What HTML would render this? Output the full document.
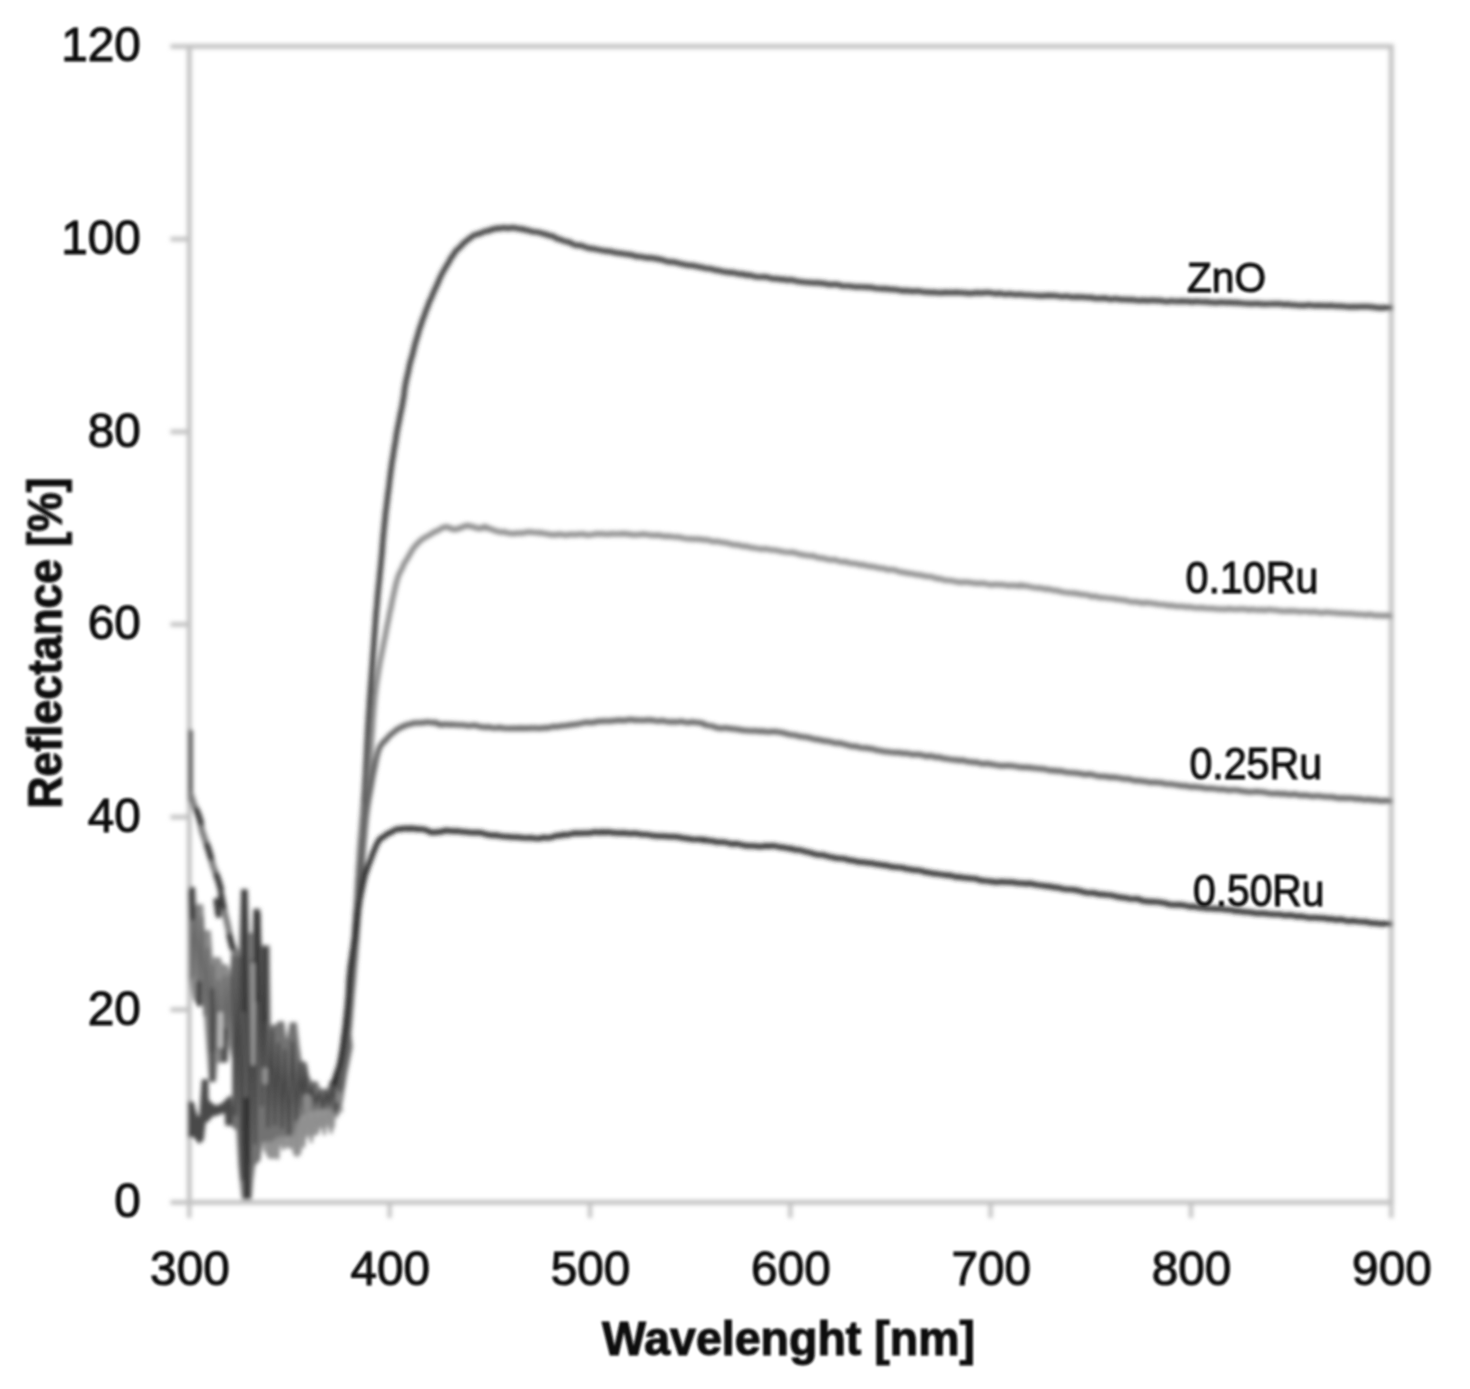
<!DOCTYPE html>
<html><head><meta charset="utf-8"><title>Reflectance chart</title>
<style>
html,body{margin:0;padding:0;background:#fff;}
svg{display:block;font-family:"Liberation Sans",sans-serif;}
</style></head><body>
<svg width="1470" height="1389" viewBox="0 0 1470 1389">
<defs><filter id="b" x="-5%" y="-5%" width="110%" height="110%"><feGaussianBlur stdDeviation="2.0"/></filter>
<filter id="bt" x="-5%" y="-5%" width="110%" height="110%"><feGaussianBlur stdDeviation="0.9"/></filter></defs>
<rect width="1470" height="1389" fill="#fff"/>
<g filter="url(#b)">
<rect x="189.3" y="46.4" width="1202.0" height="1156.0" fill="none" stroke="#c2c2c2" stroke-width="4.8"/>
<line x1="170.5" y1="1202.4" x2="189.3" y2="1202.4" stroke="#c2c2c2" stroke-width="4.6"/>
<line x1="170.5" y1="1009.7" x2="189.3" y2="1009.7" stroke="#c2c2c2" stroke-width="4.6"/>
<line x1="170.5" y1="817.1" x2="189.3" y2="817.1" stroke="#c2c2c2" stroke-width="4.6"/>
<line x1="170.5" y1="624.4" x2="189.3" y2="624.4" stroke="#c2c2c2" stroke-width="4.6"/>
<line x1="170.5" y1="431.8" x2="189.3" y2="431.8" stroke="#c2c2c2" stroke-width="4.6"/>
<line x1="170.5" y1="239.1" x2="189.3" y2="239.1" stroke="#c2c2c2" stroke-width="4.6"/>
<line x1="170.5" y1="46.4" x2="189.3" y2="46.4" stroke="#c2c2c2" stroke-width="4.6"/>
<line x1="189.3" y1="1202.4" x2="189.3" y2="1218" stroke="#c2c2c2" stroke-width="4.2"/>
<line x1="389.6" y1="1202.4" x2="389.6" y2="1218" stroke="#c2c2c2" stroke-width="4.2"/>
<line x1="590.0" y1="1202.4" x2="590.0" y2="1218" stroke="#c2c2c2" stroke-width="4.2"/>
<line x1="790.3" y1="1202.4" x2="790.3" y2="1218" stroke="#c2c2c2" stroke-width="4.2"/>
<line x1="990.6" y1="1202.4" x2="990.6" y2="1218" stroke="#c2c2c2" stroke-width="4.2"/>
<line x1="1191.0" y1="1202.4" x2="1191.0" y2="1218" stroke="#c2c2c2" stroke-width="4.2"/>
<line x1="1391.3" y1="1202.4" x2="1391.3" y2="1218" stroke="#c2c2c2" stroke-width="4.2"/>
<polygon points="255.0,1080.0 262.0,1070.0 280.0,1090.0 300.0,1096.0 320.0,1100.0 338.0,1098.0 342.0,1112.0 342.0,1107.0 335.5,1111.0 334.0,1127.7 329.0,1127.7 327.0,1121.0 325.7,1127.7 321.0,1127.7 318.0,1125.0 316.0,1135.0 308.5,1135.0 304.0,1139.0 300.0,1154.6 293.8,1154.6 291.0,1138.0 289.0,1147.0 282.8,1147.0 280.0,1143.0 276.7,1158.0 269.0,1158.0 266.0,1153.0 262.0,1134.0 255.0,1143.0" fill="#9a9a9a" stroke="#9a9a9a" stroke-width="1.5" stroke-linejoin="round" opacity="1"/>
<polyline points="255.0,1088.0 257.9,1144.9 261.6,1082.9 265.0,1149.9 268.1,1095.8 271.4,1157.1 274.8,1104.5 277.9,1158.2 280.7,1103.4 283.4,1149.1 286.8,1093.1 290.4,1147.7 294.0,1111.2 296.9,1155.8 300.4,1098.5 303.8,1146.1 307.5,1106.9 311.3,1141.7 314.3,1106.9 317.6,1133.1 321.3,1108.7 324.3,1134.1 327.7,1102.9 331.1,1132.6 334.2,1098.7 336.9,1116.1 340.4,1107.4" fill="none" stroke="#8e8e8e" stroke-width="3.0" stroke-linejoin="round" stroke-linecap="round"/>
<polygon points="189.5,888.0 194.5,888.0 196.0,905.0 202.5,905.0 204.0,931.0 210.0,931.0 212.0,958.0 220.0,958.0 222.0,965.0 227.0,965.0 230.0,975.0 233.0,951.0 240.0,951.0 240.0,1080.0 233.0,1060.0 229.0,1040.0 227.0,1062.0 217.0,1062.0 215.5,1081.0 209.5,1081.0 207.0,1045.0 204.0,1005.0 200.0,1005.0 194.0,1000.0 189.5,978.0" fill="#8a8a8a" stroke="#8a8a8a" stroke-width="1.5" stroke-linejoin="round" opacity="1"/>
<polyline points="189.5,891.7 192.7,977.0 195.7,907.0 199.1,984.2 202.1,917.6 204.8,1015.0 207.6,948.9 210.1,1051.4 212.8,965.2 215.2,1050.3 218.5,980.8 221.6,1061.2 224.4,977.1 227.0,1038.9 229.8,977.1 233.2,1057.1 236.7,964.5 239.8,1068.3" fill="none" stroke="#6a6a6a" stroke-width="3.0" stroke-linejoin="round" stroke-linecap="round"/>
<line x1="192.0" y1="889.0" x2="192.0" y2="918.0" stroke="#3a3a3a" stroke-width="5" stroke-linecap="round"/>
<line x1="199.0" y1="983.0" x2="199.0" y2="1004.0" stroke="#3a3a3a" stroke-width="5" stroke-linecap="round"/>
<line x1="212.5" y1="990.0" x2="212.5" y2="1080.0" stroke="#4a4a4a" stroke-width="4.5" stroke-linecap="round"/>
<line x1="225.0" y1="1030.0" x2="225.0" y2="1060.0" stroke="#4a4a4a" stroke-width="4.5" stroke-linecap="round"/>
<line x1="220.5" y1="1014.0" x2="220.5" y2="1046.0" stroke="#c4c4c4" stroke-width="4.5" stroke-linecap="round"/>
<polygon points="232.8,951.0 239.5,951.0 241.5,889.7 247.2,889.7 248.5,933.8 253.0,933.8 254.0,909.3 259.5,909.3 261.0,946.0 269.0,946.0 270.0,1025.6 276.0,1025.6 278.5,1022.0 283.5,1022.0 286.5,1045.0 290.5,1023.0 296.0,1023.0 298.5,1045.0 301.0,1062.0 305.0,1062.0 308.0,1075.0 311.0,1082.0 317.0,1082.0 319.0,1088.0 321.0,1089.4 328.0,1089.4 330.5,1081.0 335.5,1081.0 339.5,1061.0 343.0,1030.6 346.5,1000.0 352.0,1046.5 346.5,1073.5 341.6,1104.0 336.0,1115.0 330.0,1108.0 312.0,1110.0 305.0,1112.0 298.0,1118.0 292.6,1135.0 277.0,1136.0 271.8,1141.0 262.0,1141.0 259.7,1160.0 254.5,1165.0 252.5,1180.0 251.0,1199.0 242.5,1199.0 241.0,1185.0 239.0,1165.0 237.0,1130.0 232.8,1127.0" fill="#727272" stroke="#727272" stroke-width="1.5" stroke-linejoin="round" opacity="1"/>
<polyline points="232.8,951.4 235.6,1115.0 239.1,957.0 241.9,1179.5 245.6,898.8 249.2,1163.9 252.0,960.9 255.2,1143.3 259.2,914.0 261.9,1105.4 265.0,953.7 268.1,1126.8 272.0,1030.4 274.9,1124.8 278.3,1044.0 282.0,1127.6 284.9,1050.2 288.9,1134.6 292.5,1042.5 296.0,1119.9 299.7,1062.4 302.6,1107.4 305.5,1064.6 308.6,1108.7 311.8,1085.6 315.5,1104.3 319.4,1092.5 323.1,1107.6 326.0,1091.8 329.4,1104.9 332.1,1082.1 336.0,1110.6 339.5,1061.7 342.7,1085.5 346.2,1017.1" fill="none" stroke="#454545" stroke-width="2.8" stroke-linejoin="round" stroke-linecap="round"/>
<line x1="244.4" y1="892.0" x2="244.4" y2="1010.0" stroke="#333" stroke-width="5" stroke-linecap="round"/>
<line x1="256.6" y1="912.0" x2="256.6" y2="1000.0" stroke="#333" stroke-width="5" stroke-linecap="round"/>
<line x1="265.0" y1="949.0" x2="265.0" y2="1020.0" stroke="#383838" stroke-width="5" stroke-linecap="round"/>
<line x1="247.0" y1="1100.0" x2="247.0" y2="1196.0" stroke="#333" stroke-width="6" stroke-linecap="round"/>
<line x1="253.0" y1="964.0" x2="253.0" y2="1064.0" stroke="#a4a4a4" stroke-width="3.5" stroke-linecap="round"/>
<line x1="265.0" y1="1070.0" x2="265.0" y2="1082.0" stroke="#999" stroke-width="5" stroke-linecap="round"/>
<line x1="307.0" y1="1098.0" x2="307.0" y2="1108.0" stroke="#8a8a8a" stroke-width="8" stroke-linecap="round"/>
<polygon points="188.7,1102.0 193.0,1102.0 195.0,1110.0 197.5,1118.0 200.0,1116.0 202.5,1080.0 207.5,1080.0 208.0,1100.0 212.0,1104.0 216.0,1106.5 222.0,1104.0 226.0,1100.0 230.3,1096.0 232.8,1110.0 231.5,1125.0 226.0,1125.0 225.4,1112.0 222.0,1113.0 216.0,1115.0 212.0,1116.0 208.0,1121.0 205.0,1122.0 203.0,1140.0 199.0,1143.0 196.0,1139.0 193.0,1136.0 188.7,1137.0" fill="#4a4a4a" stroke="#4a4a4a" stroke-width="1.5" stroke-linejoin="round" opacity="1"/>
<polyline points="190.6,731.5 190.6,800.0" fill="none" stroke="#5a5a5a" stroke-width="4.6" stroke-linejoin="round" stroke-linecap="round"/>
<polyline points="190.8,795.0 194.0,805.0 199.5,817.0 201.9,830.4 205.5,841.0 209.3,851.2 213.0,866.0 219.0,881.8 222.7,902.6 225.0,914.0 227.6,924.7 231.3,943.0 236.2,954.0" fill="none" stroke="#7c7c7c" stroke-width="6.2" stroke-linejoin="round" stroke-linecap="round"/>
<polyline points="196.5,810.0 201.0,823.0" fill="none" stroke="#3a3a3a" stroke-width="6" stroke-linejoin="round" stroke-linecap="round"/>
<polyline points="207.0,845.0 211.0,858.0" fill="none" stroke="#3a3a3a" stroke-width="6" stroke-linejoin="round" stroke-linecap="round"/>
<polyline points="216.5,875.0 221.0,889.0" fill="none" stroke="#3a3a3a" stroke-width="6" stroke-linejoin="round" stroke-linecap="round"/>
<polyline points="221.0,895.0 223.5,907.0" fill="none" stroke="#3a3a3a" stroke-width="6" stroke-linejoin="round" stroke-linecap="round"/>
<polyline points="216.5,901.0 218.5,915.0" fill="none" stroke="#3a3a3a" stroke-width="6" stroke-linejoin="round" stroke-linecap="round"/>
<polyline points="229.5,936.0 232.5,948.0" fill="none" stroke="#3a3a3a" stroke-width="6" stroke-linejoin="round" stroke-linecap="round"/>
<polyline points="336.0,1084.6 336.4,1083.5 336.9,1080.9 337.6,1077.4 338.2,1074.4 339.0,1070.8 339.7,1067.4 340.4,1063.9 341.0,1059.5 341.6,1055.9 342.1,1053.3 342.6,1049.0 343.1,1045.6 343.6,1040.9 344.1,1037.6 344.5,1034.1 345.0,1029.7 345.5,1026.8 345.9,1022.9 346.4,1018.0 346.8,1014.1 347.3,1010.9 347.7,1007.7 348.1,1003.4 348.5,999.7 348.9,996.5 349.2,992.8 349.5,989.9 349.8,987.1 350.1,984.2 350.4,980.8 350.7,977.8 351.0,974.7 351.3,971.9 351.6,968.6 352.0,965.3 352.3,963.2 352.6,959.8 352.9,956.8 353.2,953.0 353.5,950.6 353.8,946.9 354.0,942.2 354.3,938.5 354.6,935.0 354.8,931.0 355.0,927.4 355.3,923.2 355.5,920.4 355.7,917.2 355.9,914.1 356.1,911.9 356.3,909.8 356.5,907.5 356.7,904.8 356.8,902.5 357.0,899.4 357.2,897.3 357.3,895.8 357.4,893.2 357.5,890.8 357.7,889.0 357.8,886.6 358.0,883.6 358.2,879.8 358.5,875.9 358.7,871.3 359.0,866.6 359.4,861.1 359.7,855.6 360.0,850.4 360.4,844.8 360.7,840.3 361.0,836.8 361.3,833.2 361.7,828.9 362.0,825.0 362.3,821.1 362.6,817.9 362.9,814.9 363.2,810.9 363.5,806.9 363.8,803.7 364.0,799.4 364.3,796.1 364.5,792.9 364.8,788.7 365.0,784.5 365.3,780.0 365.6,775.8 365.8,771.6 366.0,765.5 366.3,761.3 366.5,756.2 366.8,751.0 367.0,745.6 367.3,740.4 367.6,734.7 367.9,729.3 368.2,723.6 368.6,717.6 368.9,713.0 369.3,707.1 369.6,701.1 370.0,696.0 370.4,690.5 370.8,685.0 371.2,679.6 371.6,674.4 372.0,669.1 372.4,663.7 372.8,658.1 373.2,652.2 373.6,647.1 374.0,641.8 374.3,637.0 374.7,632.0 375.1,626.6 375.5,621.2 375.9,615.7 376.4,609.3 376.7,607.0 377.0,603.7 377.3,599.8 377.6,596.4 377.9,593.0 378.2,590.5 378.6,586.5 378.9,583.0 379.3,580.3 379.6,576.7 379.9,573.2 380.3,570.2 380.8,564.9 381.3,559.6 381.7,555.7 382.0,552.9 382.2,549.8 382.4,547.3 382.5,545.3 382.7,542.6 382.9,540.7 383.1,538.2 383.4,535.1 383.6,532.2 383.9,530.3 384.2,526.9 384.5,523.6 384.8,521.2 385.1,518.6 385.4,514.7 385.7,511.8 386.1,509.1 386.4,506.9 386.8,503.3 387.1,501.1 387.5,498.2 387.8,495.1 388.2,491.9 388.6,489.9 388.9,486.8 389.3,483.6 389.6,480.4 390.0,478.0 390.3,474.8 390.7,472.2 391.1,469.0 391.5,466.5 391.9,462.9 392.3,460.3 392.8,458.2 393.2,455.2 393.7,451.6 394.1,449.4 394.6,445.9 395.1,443.7 395.6,440.6 396.0,437.3 396.5,434.2 397.0,431.1 397.5,429.2 398.1,425.3 398.6,423.4 399.2,420.6 399.8,417.2 400.4,413.7 401.0,411.5 401.6,408.7 402.2,405.5 402.7,402.6 403.2,399.9 403.6,397.5 403.9,395.4 404.1,394.1 404.3,392.0 404.5,389.9 404.8,387.9 405.1,386.4 405.6,383.4 406.2,380.7 406.9,377.2 407.6,374.5 408.5,370.9 409.3,366.1 410.2,362.6 411.2,359.0 412.1,356.1 413.1,352.2 414.1,347.9 415.1,343.9 416.1,340.6 417.2,337.0 418.3,333.3 419.5,328.8 420.7,325.8 421.9,321.9 423.2,318.1 424.5,315.2 425.8,310.8 427.2,307.9 428.6,303.7 430.0,300.3 431.5,297.7 433.0,293.3 434.6,290.3 436.2,286.4 437.9,283.0 439.5,278.8 441.2,275.3 442.9,271.9 444.5,269.5 446.1,266.3 447.7,264.0 449.3,261.3 450.9,257.9 452.6,256.1 454.2,253.3 455.8,251.2 457.4,249.2 459.0,248.3 460.6,246.4 462.2,244.8 463.8,242.8 465.4,241.7 467.0,240.6 468.7,238.8 470.4,237.9 472.2,236.4 474.0,235.2 475.8,234.5 477.7,234.5 479.6,233.3 481.5,233.1 483.5,231.9 485.5,231.0 487.5,231.1 489.6,230.6 491.7,229.1 493.9,229.4 496.1,228.4 498.3,228.1 500.5,228.7 502.8,227.5 505.1,227.7 507.4,228.6 509.7,227.9 512.1,227.7 514.5,227.9 517.0,228.2 519.6,229.1 522.2,228.7 525.0,230.1 527.9,230.1 530.9,231.4 534.0,232.0 537.0,232.0 540.1,232.7 543.1,233.8 546.0,234.1 548.8,235.6 551.6,235.8 554.3,236.8 556.9,238.9 559.6,239.1 562.3,240.4 564.9,241.2 567.6,241.9 570.2,242.4 572.5,244.1 574.9,244.9 577.2,245.5 579.7,245.2 582.5,246.0 585.6,247.2 589.2,248.4 593.5,248.7 598.4,249.8 603.8,250.8 609.4,251.3 615.1,252.6 620.5,253.3 625.6,254.1 630.0,254.6 633.6,255.4 636.5,256.7 639.0,256.3 641.3,256.8 643.8,257.1 646.6,257.9 650.0,257.7 654.4,258.4 659.8,259.4 662.8,260.0 665.9,261.2 669.2,261.9 672.6,261.9 676.2,262.6 679.7,263.6 683.4,264.3 687.1,265.1 690.8,265.4 694.5,265.8 698.1,266.8 701.8,267.2 705.3,268.4 708.8,268.5 712.2,269.1 715.6,270.3 719.0,270.4 722.4,271.6 725.8,271.8 729.2,272.7 732.6,272.4 736.0,273.3 739.5,274.2 742.9,273.8 746.3,275.3 749.7,274.9 753.1,276.1 756.5,276.8 759.9,277.0 763.3,276.9 766.7,277.1 770.1,278.0 773.5,278.9 776.9,278.5 780.3,279.6 783.7,279.1 787.1,280.4 790.5,279.7 793.9,280.4 797.3,281.5 800.7,281.7 804.1,282.2 807.5,282.5 810.9,282.7 814.3,283.0 817.7,282.7 821.1,283.4 824.5,283.4 827.9,284.4 831.3,284.6 834.7,284.4 838.1,284.5 841.5,285.9 844.9,286.0 848.3,286.0 851.7,286.3 855.1,287.0 858.5,286.8 861.9,287.0 865.3,287.2 868.7,287.4 872.1,287.4 875.5,288.5 878.8,288.5 882.2,288.9 885.5,288.6 888.8,289.3 892.1,289.3 895.4,289.6 898.7,290.0 902.1,290.9 905.4,290.7 908.8,290.9 912.3,291.4 915.8,291.2 919.3,291.1 922.9,292.0 926.5,292.1 930.2,292.4 933.9,292.3 937.6,292.7 941.3,292.8 945.0,292.3 948.8,292.6 952.6,292.6 956.4,292.3 960.4,292.6 964.3,292.8 968.4,293.3 972.5,293.3 976.8,292.6 981.0,293.1 985.5,292.5 990.0,292.7 993.2,293.3 996.3,293.9 999.5,293.1 1002.8,294.0 1006.2,294.3 1009.5,293.7 1013.0,294.3 1016.4,294.7 1019.9,294.2 1023.5,294.8 1027.0,295.0 1030.6,295.0 1034.2,295.5 1037.8,295.7 1041.4,295.9 1045.1,295.6 1048.7,295.3 1052.3,295.6 1055.9,295.7 1059.5,296.3 1063.1,296.7 1066.6,296.0 1070.2,297.0 1073.7,297.2 1077.2,296.9 1080.7,297.2 1084.2,297.0 1087.7,297.8 1091.1,297.2 1094.6,298.5 1098.1,298.4 1101.6,298.4 1105.1,298.1 1108.6,299.1 1112.1,299.3 1115.6,298.5 1119.0,299.4 1122.5,299.7 1126.0,299.6 1129.5,299.9 1133.0,299.7 1136.5,300.4 1140.0,300.7 1143.5,300.1 1146.9,300.8 1150.4,300.4 1153.9,300.3 1157.4,300.6 1160.9,300.5 1164.4,301.5 1167.9,301.7 1171.3,300.8 1174.8,301.5 1178.3,301.3 1181.8,301.1 1185.3,301.4 1188.8,301.4 1192.2,302.1 1195.7,301.3 1199.2,301.6 1202.7,302.0 1206.2,301.6 1209.6,302.4 1213.1,302.4 1216.6,302.8 1220.1,302.1 1223.6,302.3 1227.1,302.7 1230.5,302.4 1234.0,302.9 1237.5,302.6 1241.0,303.2 1244.5,303.5 1248.1,303.6 1251.6,303.9 1255.2,303.5 1258.8,303.6 1262.3,304.1 1266.0,304.1 1269.6,304.0 1273.2,303.9 1276.8,303.9 1280.4,303.8 1284.0,304.8 1287.5,304.1 1291.1,305.0 1294.6,304.8 1298.1,305.5 1301.6,305.3 1305.0,305.7 1308.4,304.8 1311.8,305.4 1315.1,305.6 1318.3,305.4 1321.5,305.7 1324.7,305.6 1327.9,305.9 1331.0,305.4 1334.2,306.0 1337.4,306.1 1340.7,306.1 1343.9,306.3 1347.1,306.8 1350.3,306.8 1353.5,306.7 1356.6,306.9 1359.7,306.7 1362.7,306.6 1367.0,306.5 1371.3,306.9 1375.1,307.4 1378.9,307.8 1382.1,307.9 1385.4,307.6 1390.3,307.7" fill="none" stroke="#383838" stroke-width="5.2" stroke-linejoin="round" stroke-linecap="round"/>
<polyline points="338.0,1100.5 338.4,1098.2 338.9,1094.1 339.6,1090.4 340.2,1087.3 341.0,1082.9 341.7,1078.4 342.4,1073.7 343.0,1070.1 343.6,1066.4 344.1,1062.6 344.6,1058.3 345.1,1054.9 345.6,1051.1 346.1,1047.8 346.6,1044.3 347.0,1040.5 347.4,1036.3 347.8,1032.3 348.2,1028.3 348.6,1024.1 349.0,1020.3 349.3,1017.1 349.7,1013.3 350.0,1009.9 350.3,1007.1 350.6,1003.5 350.8,1000.6 351.0,997.2 351.3,994.0 351.5,991.3 351.7,987.9 352.0,985.0 352.3,982.1 352.6,978.1 352.9,973.7 353.2,970.8 353.6,966.8 353.9,962.9 354.2,959.3 354.5,955.3 354.8,951.6 355.0,947.2 355.3,944.1 355.5,940.2 355.8,935.5 356.0,932.5 356.3,928.8 356.5,925.0 356.8,921.6 357.0,918.3 357.3,915.5 357.5,911.9 357.8,909.2 358.0,905.6 358.3,903.3 358.5,900.5 358.7,897.3 358.9,895.2 359.1,893.5 359.4,891.2 359.6,888.7 359.8,885.9 360.0,883.2 360.2,880.2 360.4,875.6 360.7,871.8 360.9,866.0 361.1,861.5 361.4,855.5 361.6,851.0 361.9,845.6 362.2,840.8 362.5,836.5 362.9,832.6 363.3,828.5 363.7,824.3 364.1,820.4 364.5,817.3 364.9,814.4 365.3,810.7 365.7,807.4 366.0,806.5 366.3,804.9 366.7,803.7 367.0,801.0 367.4,799.2 367.8,794.8 368.3,790.6 368.6,786.7 368.8,783.2 369.1,779.7 369.4,774.5 369.6,771.7 369.9,768.9 370.1,764.9 370.3,761.4 370.5,758.7 370.7,754.7 371.0,751.5 371.2,747.2 371.4,744.1 371.6,740.5 371.8,737.8 372.0,733.7 372.3,731.7 372.5,727.6 372.7,725.4 372.9,720.8 373.2,717.3 373.4,715.0 373.7,711.2 374.1,706.3 374.4,702.7 374.8,698.7 375.1,695.0 375.5,692.9 375.9,688.6 376.4,684.6 377.0,681.0 377.6,677.2 378.2,673.3 378.9,668.5 379.6,664.8 380.3,660.3 381.1,656.8 381.8,653.1 382.6,649.0 383.4,645.0 384.2,640.6 385.1,636.6 385.9,632.3 386.7,628.0 387.5,623.8 388.3,620.6 389.0,616.6 389.7,612.8 390.4,609.8 391.1,607.1 391.7,603.0 392.3,600.6 392.9,597.5 393.5,595.0 394.0,592.2 394.5,591.0 394.9,588.2 395.4,586.8 395.8,584.9 396.2,582.7 396.7,581.7 397.2,579.6 397.7,577.8 398.3,576.2 398.9,574.8 399.4,573.3 400.1,572.4 400.7,570.9 401.3,570.0 402.0,568.5 402.7,567.2 403.4,564.9 404.0,563.9 404.8,562.4 405.5,561.4 406.3,560.1 407.2,558.9 408.1,557.4 409.1,555.2 410.1,553.7 411.2,552.0 412.4,549.6 413.6,547.9 414.9,546.6 416.2,544.6 417.6,543.8 419.1,541.8 420.7,540.3 422.4,539.1 424.1,538.0 425.9,536.8 427.7,536.1 429.5,535.0 431.2,533.8 432.9,533.1 434.7,531.6 436.5,531.3 438.2,530.4 440.0,529.3 441.7,528.1 443.3,527.6 444.8,527.3 446.2,526.5 447.4,527.1 448.5,527.6 449.6,527.7 450.7,528.0 451.8,529.3 453.0,529.1 454.4,529.3 455.9,529.6 457.6,528.8 459.3,527.9 461.1,528.1 462.9,526.8 464.7,525.9 466.4,526.3 468.0,525.4 469.5,525.7 471.0,526.7 472.4,526.9 473.8,526.5 475.2,527.6 476.4,528.0 477.7,528.4 478.8,528.2 479.8,528.7 480.8,527.9 481.6,527.9 482.5,527.7 483.2,528.1 484.0,526.8 484.8,527.5 485.6,526.8 486.4,527.4 487.0,527.4 487.5,527.8 488.1,528.6 488.8,528.5 489.7,528.6 490.9,529.0 492.4,529.4 494.3,530.7 496.6,531.0 499.1,531.9 501.8,532.1 504.6,531.8 507.5,533.0 510.2,533.4 512.9,533.6 515.5,533.3 518.2,533.1 520.9,533.0 523.5,533.1 526.2,532.2 528.7,532.2 531.1,532.0 533.3,532.5 535.3,532.5 537.0,532.8 538.5,533.0 539.9,532.6 541.4,532.9 543.0,533.5 544.8,533.5 546.9,533.9 549.2,534.4 551.4,534.8 553.8,534.5 556.3,534.9 559.1,534.1 562.3,534.5 565.9,535.3 570.0,534.3 574.8,534.6 580.4,534.1 583.4,534.0 586.4,534.9 589.6,535.0 592.7,534.5 596.0,533.8 599.2,533.9 602.5,533.8 605.7,534.3 608.8,534.2 611.9,533.9 617.7,534.0 623.1,533.6 628.4,534.2 633.5,534.8 638.5,534.7 643.5,534.1 648.5,534.8 653.4,535.3 658.5,535.1 663.7,536.3 669.0,536.2 674.4,537.0 679.7,537.2 685.0,538.5 690.1,538.8 694.9,539.1 699.3,539.1 703.4,539.9 707.1,539.8 710.5,540.9 713.8,541.7 716.9,541.2 720.0,542.1 723.2,542.5 726.5,542.9 729.8,543.8 733.1,544.6 736.3,544.9 739.5,545.2 742.8,546.4 746.3,546.2 749.9,547.3 753.7,547.8 757.7,548.5 761.7,549.1 765.8,548.8 770.1,549.8 774.6,550.0 779.3,551.0 784.5,552.0 790.0,552.5 793.0,552.2 796.0,553.2 799.3,554.1 802.6,554.9 806.0,555.2 809.5,556.0 813.1,555.7 816.7,557.4 820.3,557.8 824.0,558.3 827.7,559.4 831.4,560.0 835.0,559.7 838.7,561.2 842.2,561.8 845.8,561.7 849.3,563.0 852.8,563.4 856.3,563.6 859.8,564.9 863.2,564.7 866.7,565.9 870.2,566.3 873.7,566.7 877.2,567.6 880.7,568.1 884.2,568.4 887.6,569.9 891.1,569.5 894.6,570.0 898.1,571.2 901.6,572.2 905.1,572.6 908.6,573.4 912.1,573.7 915.6,574.6 919.0,574.9 922.5,575.4 926.0,576.4 929.5,576.5 933.0,577.2 936.5,578.7 940.0,578.6 943.5,579.9 946.9,580.5 950.4,580.5 953.9,581.3 957.4,581.9 961.0,582.4 964.6,582.0 968.5,582.3 972.3,582.9 976.2,583.3 980.0,583.4 983.9,583.3 987.7,584.2 991.4,584.9 995.1,584.3 998.6,584.7 1002.0,584.7 1005.0,585.0 1008.1,585.6 1013.2,585.3 1016.7,585.9 1018.7,585.7 1019.6,585.7 1020.1,586.0 1020.8,585.0 1022.3,586.0 1025.1,585.7 1030.0,586.8 1033.5,587.5 1037.0,587.8 1041.3,588.1 1045.5,589.3 1048.8,588.9 1052.1,590.1 1055.3,590.3 1058.9,591.1 1062.5,592.0 1066.0,592.5 1069.7,592.9 1073.4,593.1 1077.2,593.6 1080.9,594.4 1084.7,594.7 1088.4,595.3 1092.1,596.7 1095.8,596.2 1099.5,597.6 1103.0,597.5 1106.4,598.0 1109.9,598.4 1113.2,598.5 1116.5,599.4 1119.7,599.5 1123.0,600.2 1126.2,600.4 1129.4,601.5 1132.6,601.9 1135.8,601.8 1139.0,602.4 1142.2,603.1 1145.4,602.7 1148.6,602.8 1151.8,603.3 1155.1,603.6 1158.4,604.5 1161.7,604.5 1165.0,604.8 1168.4,605.6 1171.9,605.3 1175.4,606.3 1178.8,606.3 1182.5,606.3 1186.1,607.1 1189.8,606.8 1193.7,607.7 1197.5,608.0 1201.4,607.7 1204.4,608.1 1207.4,608.5 1210.4,608.4 1213.4,608.6 1216.5,608.9 1219.7,609.1 1222.8,609.0 1225.9,609.4 1229.1,608.6 1232.3,609.1 1235.5,609.3 1238.6,609.1 1241.9,609.2 1245.1,609.0 1248.3,610.1 1251.5,609.4 1254.8,609.7 1258.0,610.3 1261.3,609.6 1264.5,610.6 1267.7,609.7 1270.9,609.7 1274.1,610.2 1277.3,610.3 1280.5,611.1 1283.7,611.2 1286.8,611.2 1290.0,610.9 1293.3,611.2 1296.6,611.0 1299.9,611.9 1303.2,611.5 1306.7,611.5 1310.3,612.1 1313.8,611.7 1317.4,612.1 1321.0,613.0 1324.6,612.2 1328.3,612.4 1331.9,612.7 1335.5,612.9 1339.1,613.3 1342.7,613.3 1346.3,613.6 1349.7,613.6 1353.0,613.8 1356.4,614.4 1359.8,614.3 1362.9,614.5 1365.9,615.1 1369.0,614.4 1372.0,614.7 1375.5,615.7 1378.9,615.3 1382.3,615.9 1386.1,615.4 1390.0,616.0" fill="none" stroke="#888888" stroke-width="5.2" stroke-linejoin="round" stroke-linecap="round"/>
<polyline points="340.0,1089.7 340.4,1087.7 340.9,1084.5 341.6,1081.1 342.2,1077.0 343.0,1072.0 343.7,1067.6 344.4,1064.4 345.0,1059.7 345.6,1055.9 346.1,1053.1 346.6,1048.7 347.2,1045.4 347.7,1041.2 348.1,1037.7 348.6,1033.3 349.0,1030.2 349.4,1026.7 349.7,1022.5 350.0,1019.0 350.3,1015.2 350.6,1010.7 350.9,1007.8 351.2,1003.9 351.5,999.8 351.8,995.7 352.1,992.9 352.4,988.7 352.8,985.3 353.1,981.7 353.4,977.8 353.7,974.3 354.0,969.9 354.3,966.6 354.6,962.4 355.0,959.3 355.3,955.5 355.6,950.8 355.9,947.1 356.2,943.4 356.5,940.6 356.8,936.1 357.0,932.3 357.3,927.9 357.6,924.1 357.8,920.0 358.0,916.3 358.3,913.1 358.5,910.1 358.7,907.9 358.9,905.4 359.1,903.8 359.3,902.0 359.5,900.6 359.7,898.6 359.8,896.4 360.0,895.4 360.1,893.9 360.2,892.3 360.3,890.6 360.4,889.3 360.5,887.1 360.6,885.9 360.8,883.2 361.0,879.7 361.3,875.6 361.6,871.9 362.0,867.0 362.4,860.4 362.8,855.7 363.2,849.8 363.6,844.3 364.0,839.8 364.4,836.0 364.7,832.0 365.1,827.0 365.5,823.9 365.8,819.5 366.2,816.8 366.6,813.0 367.0,810.5 367.4,807.5 367.9,804.1 368.3,802.0 368.8,798.6 369.3,796.0 369.7,794.3 370.1,791.5 370.5,789.6 370.8,788.0 371.1,786.5 371.4,784.4 371.6,782.8 371.8,782.4 372.0,780.4 372.3,779.9 372.5,778.5 372.7,776.5 373.0,775.4 373.2,774.3 373.4,773.3 373.7,772.0 373.9,770.8 374.2,769.6 374.5,768.5 374.8,766.4 375.2,764.6 375.5,763.2 375.9,760.8 376.3,759.0 376.6,758.1 377.0,755.9 377.4,754.5 377.8,752.5 378.1,751.8 378.5,750.8 378.9,749.1 379.2,748.8 379.6,747.9 380.0,746.3 380.5,746.2 381.0,745.2 381.5,744.7 381.9,743.7 382.5,743.5 383.0,743.0 383.6,741.6 384.2,741.0 384.9,741.0 385.6,740.6 386.4,738.9 387.2,738.3 388.0,737.6 388.8,736.4 389.8,735.6 390.7,734.6 391.7,733.8 392.7,733.2 393.8,732.0 394.9,731.2 396.0,730.7 397.2,729.0 398.5,728.8 399.8,728.2 401.2,727.0 402.7,726.2 404.2,726.3 405.8,725.1 407.5,724.5 409.2,724.3 411.0,724.2 412.9,723.1 414.8,723.1 416.9,722.8 419.2,723.2 421.6,722.5 424.0,722.9 426.4,722.0 428.7,722.1 430.7,722.5 432.5,722.9 433.9,722.5 435.1,722.4 436.0,722.6 436.8,723.4 437.5,723.4 438.3,724.4 439.1,724.7 440.0,724.1 440.9,724.3 441.7,725.0 442.4,724.8 443.2,724.9 444.1,724.3 445.3,724.0 446.8,724.2 448.8,724.9 451.3,724.3 454.3,724.6 457.6,724.8 461.2,725.0 465.0,725.2 468.8,726.0 472.5,725.3 476.0,725.3 479.3,726.7 482.6,726.9 485.8,727.3 489.1,726.9 492.4,727.8 495.8,728.0 499.4,727.4 503.3,728.2 507.4,728.5 511.8,728.4 516.4,728.4 521.1,728.2 525.9,728.4 530.7,728.2 535.4,728.0 540.0,728.4 544.4,727.7 548.7,727.9 553.0,726.4 557.2,726.8 561.5,725.9 566.0,725.6 570.6,724.9 575.4,724.4 580.6,723.5 586.2,722.3 592.1,722.6 598.1,721.4 603.9,721.1 609.6,721.1 614.9,720.6 619.6,720.2 623.6,720.6 626.8,720.1 629.7,719.7 632.3,719.6 635.0,720.4 638.0,720.0 641.6,720.5 646.1,720.1 651.8,720.1 655.2,720.7 658.5,721.2 662.3,720.5 666.0,721.5 669.9,721.8 673.8,721.8 677.6,722.0 681.4,721.3 684.9,722.2 688.4,722.7 691.5,721.9 694.5,722.4 699.2,722.7 702.2,723.4 703.7,723.6 704.2,724.0 704.2,724.7 704.1,724.1 704.3,724.6 705.5,725.1 708.0,725.5 711.9,726.0 716.9,727.8 722.7,728.3 725.8,727.7 728.9,728.6 732.1,728.7 735.3,729.1 738.4,729.4 741.5,730.1 747.2,730.6 752.2,730.8 756.3,730.9 759.7,731.3 762.7,731.1 765.6,731.6 768.5,731.9 771.7,731.6 775.4,731.6 780.0,732.3 785.4,733.4 788.4,734.2 791.5,734.9 794.8,735.0 798.0,736.1 801.5,736.6 804.9,737.0 808.5,737.6 812.0,738.5 815.6,739.4 819.2,739.7 822.7,740.7 826.2,741.1 829.6,741.5 833.0,742.4 836.3,743.2 839.6,743.1 843.0,744.1 846.3,744.7 849.6,745.8 852.9,746.4 856.2,746.3 859.5,747.5 862.9,748.0 866.2,747.9 869.5,748.7 872.8,748.8 876.1,750.2 879.5,750.5 882.8,751.3 886.1,751.7 889.4,752.0 892.7,752.5 896.1,752.7 899.4,752.5 902.7,753.5 906.0,753.2 909.3,753.7 912.7,754.8 916.0,754.3 919.3,754.7 922.6,755.1 925.9,756.4 929.2,755.9 932.6,756.1 935.9,757.5 939.2,757.0 942.6,758.3 945.9,758.6 949.4,759.2 952.8,759.8 956.3,759.9 959.8,760.6 963.2,760.2 966.7,761.6 970.0,761.7 973.4,762.4 976.7,762.2 980.0,763.4 983.2,764.0 986.3,763.4 992.2,764.4 997.4,765.2 1001.7,765.9 1005.6,765.5 1009.4,765.7 1013.4,766.0 1017.9,766.8 1023.4,767.4 1026.7,767.3 1030.0,767.6 1034.0,768.1 1038.0,768.5 1041.0,768.9 1044.0,768.9 1047.0,769.7 1050.3,770.6 1053.6,770.4 1056.9,771.1 1060.4,770.8 1063.8,771.9 1067.3,772.4 1070.9,772.7 1074.5,772.9 1078.1,773.3 1081.7,773.9 1085.3,774.7 1088.9,774.2 1092.5,774.6 1096.1,775.8 1099.6,776.4 1103.0,776.3 1106.5,776.6 1109.9,777.4 1113.2,777.1 1116.5,777.6 1119.7,777.9 1123.0,778.8 1126.2,778.8 1129.4,779.1 1132.6,780.1 1135.8,780.8 1139.0,780.4 1142.2,781.3 1145.4,781.3 1148.6,782.3 1151.8,782.3 1155.1,782.3 1158.4,782.7 1161.7,782.8 1165.0,783.8 1168.4,784.0 1171.9,784.2 1175.4,784.8 1178.8,785.1 1182.5,786.0 1186.1,785.6 1189.8,787.0 1193.7,786.7 1197.5,787.2 1201.4,787.4 1204.4,788.1 1207.4,788.4 1210.4,788.3 1213.4,788.5 1216.5,789.0 1219.7,789.5 1222.8,789.2 1225.9,789.8 1229.1,790.4 1232.3,790.0 1235.5,790.0 1238.6,790.3 1241.9,791.1 1245.1,791.3 1248.3,791.9 1251.5,792.0 1254.8,791.5 1258.0,791.7 1261.3,792.0 1264.5,792.2 1267.7,793.0 1270.9,793.4 1274.1,793.7 1277.3,793.2 1280.5,794.1 1283.7,793.7 1286.8,794.1 1290.0,794.7 1293.3,794.1 1296.6,794.4 1299.9,795.5 1303.2,795.1 1306.7,795.4 1310.3,795.9 1313.8,796.3 1317.4,795.7 1321.0,796.3 1324.6,796.7 1328.3,797.0 1331.9,796.9 1335.5,797.6 1339.1,798.3 1342.7,797.8 1346.3,798.3 1349.7,798.0 1353.0,798.4 1356.4,799.1 1359.8,798.6 1362.9,799.7 1365.9,799.9 1369.0,799.2 1372.0,800.4 1375.5,799.9 1378.9,800.6 1382.3,800.8 1386.1,800.5 1390.0,801.0" fill="none" stroke="#5f5f5f" stroke-width="5.2" stroke-linejoin="round" stroke-linecap="round"/>
<polyline points="334.0,1081.7 334.5,1079.9 335.2,1078.1 336.0,1075.3 337.0,1072.4 337.9,1069.7 338.9,1067.1 339.7,1063.6 340.5,1060.3 341.2,1056.3 341.8,1053.1 342.4,1049.1 343.0,1045.1 343.5,1041.1 344.0,1037.3 344.5,1034.3 345.0,1030.4 345.5,1026.6 345.9,1022.7 346.3,1018.2 346.7,1014.5 347.1,1011.0 347.4,1007.4 347.7,1003.9 348.0,1000.5 348.3,996.1 348.5,993.4 348.6,990.2 348.8,986.9 348.9,983.4 349.1,980.7 349.3,977.4 349.5,975.5 349.8,972.7 350.0,969.8 350.3,967.1 350.6,965.5 350.9,962.7 351.2,960.7 351.6,958.1 352.0,955.0 352.4,952.0 352.9,949.2 353.4,945.9 354.0,942.4 354.5,939.3 355.0,936.7 355.5,932.6 356.0,929.5 356.4,927.1 356.8,923.6 357.1,920.8 357.4,917.6 357.8,914.4 358.1,912.1 358.5,908.0 359.0,905.1 359.5,901.6 360.1,898.6 360.8,894.7 361.5,891.3 362.2,888.4 362.8,884.6 363.5,881.9 364.1,879.7 364.7,876.4 365.2,874.4 365.7,872.9 366.3,872.0 366.8,870.4 367.3,868.5 367.8,867.3 368.3,865.6 368.8,864.5 369.3,862.5 369.8,861.9 370.3,860.7 370.8,859.4 371.3,857.8 371.8,856.8 372.3,854.4 372.8,853.5 373.2,853.1 373.7,851.7 374.1,850.2 374.5,849.7 375.0,848.2 375.5,847.4 376.0,845.8 376.5,844.7 376.9,844.0 377.3,842.8 377.8,842.2 378.3,842.0 379.0,840.4 379.8,839.1 380.8,838.3 382.1,837.4 383.6,837.0 385.3,835.4 387.0,834.1 388.9,832.8 390.8,832.8 392.6,831.2 394.4,830.2 396.1,829.5 397.8,829.1 399.5,828.9 401.2,829.3 402.9,828.5 404.6,828.2 406.3,828.7 408.0,828.3 409.7,829.1 411.4,828.1 413.1,828.6 414.8,828.9 416.5,828.6 418.2,829.5 419.9,829.0 421.6,829.0 423.3,829.5 425.0,829.5 426.7,830.5 428.4,830.9 430.1,832.2 431.8,832.6 433.5,832.5 435.2,832.1 436.8,832.4 438.3,832.2 439.7,831.8 441.1,831.4 442.7,831.8 444.4,830.5 446.4,830.2 448.8,831.1 451.5,830.7 454.6,831.4 458.0,830.9 461.5,831.8 465.2,831.8 468.9,832.3 472.5,832.6 476.0,832.7 479.3,832.6 482.6,833.1 485.8,834.4 489.1,834.9 492.4,835.4 495.8,835.1 499.4,835.9 503.3,836.5 507.5,836.6 512.1,837.2 516.8,837.2 521.7,837.7 526.6,838.0 531.3,837.7 535.8,838.5 540.0,838.5 543.8,837.3 547.3,838.0 550.7,837.5 553.9,836.6 557.0,835.3 560.1,835.8 563.3,834.4 566.5,835.0 569.8,834.3 573.1,833.3 576.4,833.1 579.7,833.4 583.1,833.1 586.4,833.2 589.7,833.2 593.0,832.3 596.2,831.9 599.2,832.9 602.2,831.7 605.2,832.7 608.3,831.8 611.7,832.7 615.4,832.8 619.6,833.1 624.3,832.9 629.6,833.7 635.3,833.3 641.1,834.4 647.1,834.5 653.0,835.7 658.6,836.1 663.8,836.2 668.8,836.7 673.9,836.6 678.9,837.1 683.7,838.2 688.3,838.6 692.4,839.4 696.1,839.5 699.2,839.3 701.3,839.7 702.4,840.3 702.9,840.1 703.0,839.5 703.3,840.5 703.9,840.5 705.4,839.8 708.0,840.7 711.9,840.9 716.9,842.1 722.7,842.2 725.8,842.5 728.9,843.2 732.1,844.2 735.3,843.6 738.4,843.9 741.5,844.9 747.2,845.9 752.2,845.9 756.3,846.1 759.7,846.6 762.7,846.5 765.6,845.5 768.5,846.4 771.7,845.6 775.4,846.0 780.0,847.2 785.4,847.6 788.4,848.6 791.5,848.4 794.8,850.0 798.0,849.8 801.5,850.5 804.9,851.6 808.5,852.2 812.0,853.2 815.6,854.4 819.2,855.0 822.7,854.8 826.2,855.9 829.6,856.8 833.0,857.4 836.3,858.2 839.6,858.5 843.0,858.5 846.3,859.3 849.6,860.5 852.9,860.4 856.2,861.4 859.5,862.1 862.9,862.1 866.2,862.7 869.5,863.1 872.8,863.2 876.1,864.4 879.5,864.3 882.8,865.4 886.1,865.2 889.4,866.4 892.7,866.8 896.1,867.2 899.4,867.5 902.7,867.7 906.0,869.0 909.3,869.1 912.7,870.1 916.0,870.0 919.3,870.5 922.6,871.1 925.9,872.5 929.2,872.3 932.6,873.7 935.9,873.5 939.2,874.3 942.6,874.5 945.9,875.3 949.4,875.2 952.8,876.1 956.3,877.2 959.8,876.8 963.2,877.9 966.7,877.9 970.0,878.4 973.4,878.5 976.7,878.9 980.0,880.4 983.2,880.7 986.3,881.0 992.2,881.7 997.4,882.3 1001.7,881.6 1005.6,882.2 1009.4,882.2 1013.4,882.4 1017.9,883.1 1023.4,883.3 1026.7,883.9 1030.0,883.2 1034.0,884.4 1038.0,885.0 1041.0,885.5 1044.0,885.7 1047.0,886.4 1050.3,886.3 1053.6,887.5 1056.9,887.4 1060.4,888.2 1063.8,889.1 1067.3,889.4 1070.9,889.5 1074.5,889.9 1078.1,890.6 1081.7,891.5 1085.3,892.5 1088.9,893.0 1092.5,892.9 1096.1,893.4 1099.6,894.5 1103.0,894.3 1106.5,895.0 1109.9,895.0 1113.2,895.7 1116.5,896.6 1119.7,897.2 1123.0,897.6 1126.2,897.8 1129.4,898.9 1132.6,899.0 1135.8,898.9 1139.0,899.2 1142.2,900.8 1145.4,901.2 1148.6,901.6 1151.8,901.7 1155.1,901.8 1158.4,902.0 1161.7,902.6 1165.0,903.0 1168.4,904.3 1171.9,904.7 1175.4,904.9 1178.8,904.6 1182.5,905.1 1186.1,905.6 1189.8,906.8 1193.7,906.3 1197.5,907.5 1201.4,907.8 1204.4,907.9 1207.4,908.7 1210.4,908.2 1213.4,908.8 1216.5,908.6 1219.7,908.9 1222.8,909.1 1225.9,909.7 1229.1,909.8 1232.3,910.0 1235.5,911.4 1238.6,910.8 1241.9,911.8 1245.1,911.9 1248.3,912.2 1251.5,912.4 1254.8,913.1 1258.0,913.3 1261.3,913.4 1264.5,913.4 1267.7,913.9 1270.9,914.2 1274.1,914.3 1277.3,914.5 1280.5,914.4 1283.7,915.5 1286.8,915.3 1290.0,915.1 1293.3,915.5 1296.6,916.6 1299.9,916.2 1303.2,916.6 1306.7,917.3 1310.3,917.8 1313.8,917.5 1317.4,917.8 1321.0,918.2 1324.6,918.0 1328.3,919.3 1331.9,918.6 1335.5,920.0 1339.1,919.4 1342.7,919.7 1346.3,920.8 1349.7,921.1 1353.0,920.6 1356.4,921.3 1359.8,921.5 1362.9,922.0 1365.9,921.6 1369.0,922.7 1372.0,923.1 1375.5,923.0 1378.9,923.6 1382.3,923.9 1386.1,923.5 1390.0,924.0" fill="none" stroke="#282828" stroke-width="5.2" stroke-linejoin="round" stroke-linecap="round"/>
</g>
<g fill="#0c0c0c" stroke="#0c0c0c" stroke-width="1.1" filter="url(#bt)">
<text transform="translate(140.8,1217.4) scale(1.0,1)" font-size="47.7" text-anchor="end">0</text>
<text transform="translate(140.8,1024.7) scale(1.0,1)" font-size="47.7" text-anchor="end">20</text>
<text transform="translate(140.8,832.1) scale(1.0,1)" font-size="47.7" text-anchor="end">40</text>
<text transform="translate(140.8,639.4) scale(1.0,1)" font-size="47.7" text-anchor="end">60</text>
<text transform="translate(140.8,446.8) scale(1.0,1)" font-size="47.7" text-anchor="end">80</text>
<text transform="translate(140.8,254.1) scale(1.0,1)" font-size="47.7" text-anchor="end">100</text>
<text transform="translate(140.8,61.4) scale(1.0,1)" font-size="47.7" text-anchor="end">120</text>
<text transform="translate(189.9,1284.6) scale(1.0,1)" font-size="47.7" text-anchor="middle">300</text>
<text transform="translate(390.2,1284.6) scale(1.0,1)" font-size="47.7" text-anchor="middle">400</text>
<text transform="translate(590.6,1284.6) scale(1.0,1)" font-size="47.7" text-anchor="middle">500</text>
<text transform="translate(790.9,1284.6) scale(1.0,1)" font-size="47.7" text-anchor="middle">600</text>
<text transform="translate(991.2,1284.6) scale(1.0,1)" font-size="47.7" text-anchor="middle">700</text>
<text transform="translate(1191.5,1284.6) scale(1.0,1)" font-size="47.7" text-anchor="middle">800</text>
<text transform="translate(1391.9,1284.6) scale(1.0,1)" font-size="47.7" text-anchor="middle">900</text>
<text x="602" y="1355" font-size="47.5" font-weight="bold" textLength="373" lengthAdjust="spacingAndGlyphs">Wavelenght [nm]</text>
<text transform="translate(61.5,808.5) rotate(-90)" x="0" y="0" font-size="48.5" font-weight="bold" textLength="331" lengthAdjust="spacingAndGlyphs">Reflectance [%]</text>
<text x="1187" y="292.3" font-size="43" textLength="79" lengthAdjust="spacingAndGlyphs">ZnO</text>
<text x="1185.5" y="593.3" font-size="43.5" textLength="133" lengthAdjust="spacingAndGlyphs">0.10Ru</text>
<text x="1189.5" y="779.2" font-size="43.5" textLength="132.5" lengthAdjust="spacingAndGlyphs">0.25Ru</text>
<text x="1193" y="906.4" font-size="43.5" textLength="131.5" lengthAdjust="spacingAndGlyphs">0.50Ru</text>
</g>
</svg>
</body></html>
